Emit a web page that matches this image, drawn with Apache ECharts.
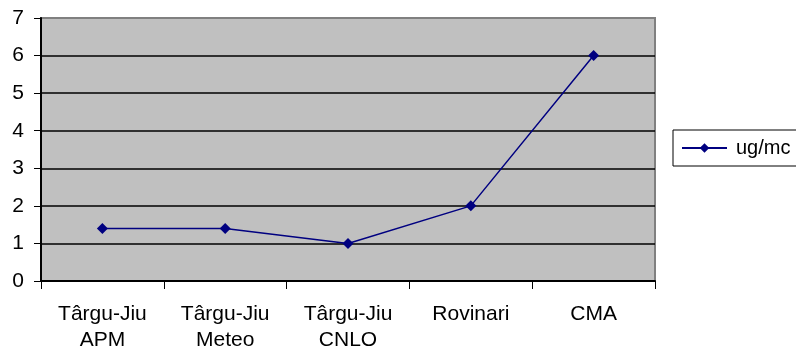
<!DOCTYPE html>
<html>
<head>
<meta charset="utf-8">
<script src="https://cdn.jsdelivr.net/npm/echarts@6/dist/echarts.min.js"></script>
<style>
  html, body { margin: 0; padding: 0; background: #fff; }
  #chart { width: 796px; height: 353px; }
</style>
</head>
<body>
<div id="chart"></div>
<script>
// Measurement sites and concentrations
const categories = ['Târgu-Jiu\nAPM', 'Târgu-Jiu\nMeteo', 'Târgu-Jiu\nCNLO', 'Rovinari', 'CMA'];
const values = [1.4, 1.4, 1, 2, 6];
const seriesName = 'ug/mc';
const yTicks = [0, 1, 2, 3, 4, 5, 6, 7];

const chart = echarts.init(document.getElementById('chart'));
const font = 'Liberation Sans, Arial, sans-serif';

chart.setOption({
  animation: false,
  grid: {
    left: 41, top: 18, right: 141, bottom: 71,
    show: true,
    backgroundColor: '#C0C0C0',
    borderColor: '#808080',
    borderWidth: 2
  },
  legend: {
    left: 673, top: 130,
    orient: 'vertical',
    data: [seriesName],
    itemWidth: 45,
    itemHeight: 12,
    itemGap: 0,
    padding: [8, 12, 8, 8],
    borderColor: '#000',
    borderWidth: 1,
    backgroundColor: '#fff',
    borderRadius: 0,
    textStyle: { fontFamily: font, fontSize: 20, color: '#000', padding: [0, 0, 0, 4] }
  },
  xAxis: {
    type: 'category',
    data: categories,
    boundaryGap: true,
    axisLine: { lineStyle: { color: '#000', width: 2 } },
    axisTick: { show: true, length: 8, lineStyle: { color: '#000', width: 1 } },
    axisLabel: { fontFamily: font, fontSize: 21, color: '#000', lineHeight: 26, margin: 20 },
    splitLine: { show: false }
  },
  yAxis: {
    type: 'value',
    min: yTicks[0], max: yTicks[yTicks.length - 1], interval: 1,
    axisLine: { show: true, lineStyle: { color: '#000', width: 2 } },
    axisTick: { show: true, length: 7, lineStyle: { color: '#000', width: 1 } },
    axisLabel: { fontFamily: font, fontSize: 21, color: '#000', margin: 17 },
    splitLine: {
      show: true,
      lineStyle: { color: ['#000', '#000', '#000', '#000', '#000', '#000', '#000', '#808080'], width: 1.5 }
    }
  },
  series: [{
    name: seriesName,
    type: 'line',
    data: values,
    symbol: 'diamond',
    symbolSize: 11,
    itemStyle: { color: '#000080' },
    lineStyle: { color: '#000080', width: 1.5 },
    z: 5
  }]
});
</script>
</body>
</html>
